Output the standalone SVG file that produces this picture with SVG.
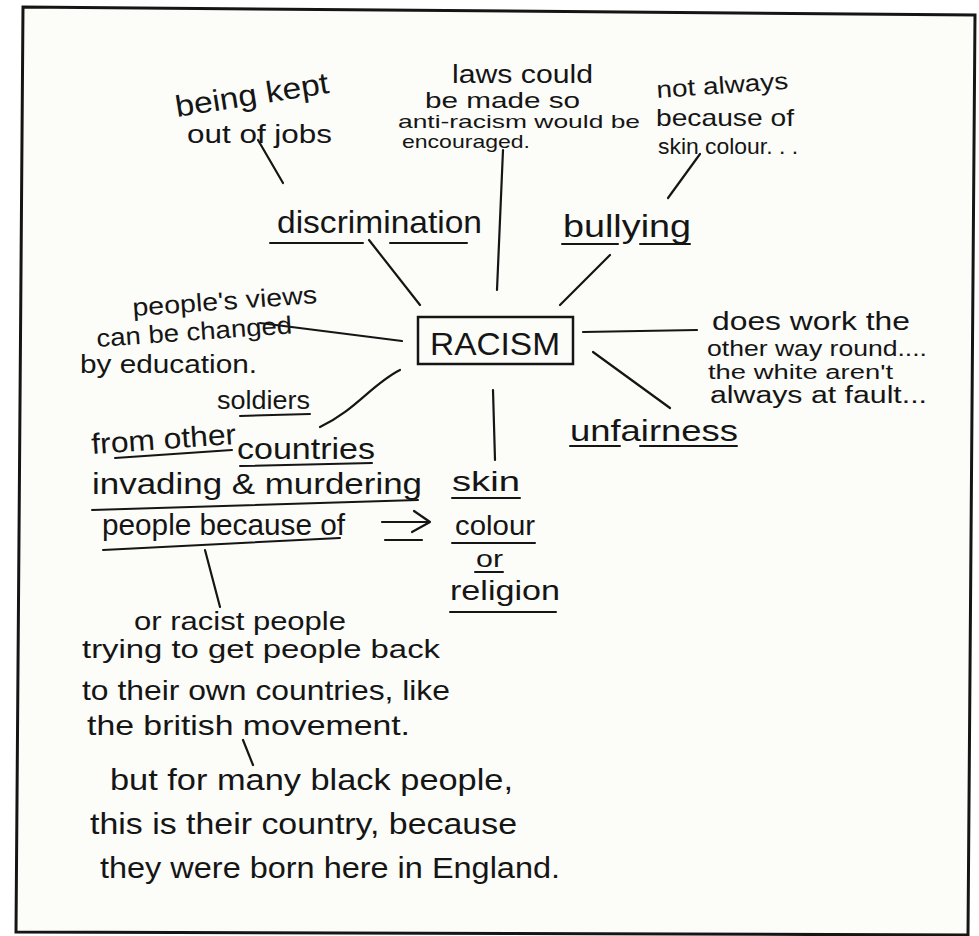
<svg xmlns="http://www.w3.org/2000/svg" width="979" height="936" viewBox="0 0 979 936">
  <style>
    .t { font-family: "Liberation Sans", "DejaVu Sans", sans-serif; fill: #151515; }
    .ln { stroke: #151515; stroke-width: 2.2; fill: none; stroke-linecap: round; stroke-linejoin: round; }
    .ul { stroke: #151515; stroke-width: 2; fill: none; stroke-linecap: round; }
  </style>

  <!-- sheet -->
  <rect x="0" y="0" width="979" height="936" fill="#ffffff"/>
  <polygon points="23,7 975,15 968,935 16,932" fill="#fcfcf9" stroke="#151515" stroke-width="3"/>

  <!-- connectors -->
  <g id="connectors">
    <line class="ln" x1="258" y1="140" x2="283" y2="183"/>
    <line class="ln" x1="369" y1="240" x2="420" y2="305"/>
    <line class="ln" x1="503" y1="150" x2="497" y2="290"/>
    <line class="ln" x1="668" y1="198" x2="700" y2="154"/>
    <line class="ln" x1="610" y1="255" x2="560" y2="305"/>
    <path class="ln" d="M260,323 Q330,332 402,341"/>
    <line class="ln" x1="583" y1="332" x2="697" y2="330"/>
    <line class="ln" x1="593" y1="352" x2="670" y2="408"/>
    <path class="ln" d="M400,370 C372,384 356,410 320,427"/>
    <line class="ln" x1="493" y1="390" x2="495" y2="460"/>
    <line class="ln" x1="205" y1="550" x2="220" y2="607"/>
    <line class="ln" x1="243" y1="740" x2="253" y2="765" stroke-width="3"/>
    <!-- double arrow -->
    <path class="ln" d="M382,522 L428,522 M414,511 L430,522 L412,532"/>
    <line class="ln" x1="385" y1="540" x2="422" y2="540"/>
  </g>

  <!-- central node -->
  <g id="racism">
    <rect x="418" y="317" width="155" height="47" fill="none" stroke="#151515" stroke-width="2.5"/>
    <text class="t" x="430" y="355" font-size="32" textLength="130" lengthAdjust="spacingAndGlyphs">RACISM</text>
  </g>

  <g id="discrimination">
    <text class="t" x="277" y="233" font-size="32" textLength="205" lengthAdjust="spacingAndGlyphs">discrimination</text>
    <line class="ul" x1="270" y1="243" x2="363" y2="243"/>
    <line class="ul" x1="390" y1="243" x2="467" y2="243"/>
  </g>

  <g id="jobs">
    <text class="t" x="177" y="117" font-size="30" textLength="155" lengthAdjust="spacingAndGlyphs" transform="rotate(-9 177 117)">being kept</text>
    <text class="t" x="187" y="143" font-size="25" textLength="145" lengthAdjust="spacingAndGlyphs">out of jobs</text>
  </g>

  <g id="laws">
    <text class="t" x="452" y="83" font-size="25" textLength="141" lengthAdjust="spacingAndGlyphs">laws could</text>
    <text class="t" x="425" y="108" font-size="22" textLength="155" lengthAdjust="spacingAndGlyphs">be made so</text>
    <text class="t" x="398" y="128" font-size="19" textLength="242" lengthAdjust="spacingAndGlyphs">anti-racism would be</text>
    <text class="t" x="402" y="148" font-size="19" textLength="128" lengthAdjust="spacingAndGlyphs">encouraged.</text>
  </g>

  <g id="skin-colour-note">
    <text class="t" x="657" y="98" font-size="24" textLength="132" lengthAdjust="spacingAndGlyphs" transform="rotate(-4 657 98)">not always</text>
    <text class="t" x="656" y="126" font-size="24" textLength="138" lengthAdjust="spacingAndGlyphs">because of</text>
    <text class="t" x="658" y="154" font-size="22" textLength="140" lengthAdjust="spacingAndGlyphs">skin colour. . .</text>
  </g>

  <g id="bullying">
    <text class="t" x="563" y="237" font-size="32" textLength="128" lengthAdjust="spacingAndGlyphs">bullying</text>
    <line class="ul" x1="562" y1="244" x2="618" y2="244"/>
    <line class="ul" x1="640" y1="244" x2="690" y2="244"/>
  </g>

  <g id="education">
    <text class="t" x="133" y="316" font-size="25" textLength="185" lengthAdjust="spacingAndGlyphs" transform="rotate(-4 133 316)">people's views</text>
    <text class="t" x="97" y="347" font-size="25" textLength="196" lengthAdjust="spacingAndGlyphs" transform="rotate(-4 97 347)">can be changed</text>
    <text class="t" x="80" y="373" font-size="25" textLength="177" lengthAdjust="spacingAndGlyphs">by education.</text>
  </g>

  <g id="other-way">
    <text class="t" x="712" y="330" font-size="25" textLength="198" lengthAdjust="spacingAndGlyphs">does work the</text>
    <text class="t" x="707" y="356" font-size="22" textLength="220" lengthAdjust="spacingAndGlyphs">other way round....</text>
    <text class="t" x="708" y="379" font-size="20" textLength="185" lengthAdjust="spacingAndGlyphs">the white aren't</text>
    <text class="t" x="710" y="403" font-size="23" textLength="217" lengthAdjust="spacingAndGlyphs">always at fault...</text>
  </g>

  <g id="unfairness">
    <text class="t" x="570" y="441" font-size="30" textLength="168" lengthAdjust="spacingAndGlyphs">unfairness</text>
    <line class="ul" x1="570" y1="446" x2="620" y2="446"/>
    <line class="ul" x1="640" y1="446" x2="737" y2="446"/>
  </g>

  <g id="soldiers">
    <text class="t" x="217" y="409" font-size="25" textLength="93" lengthAdjust="spacingAndGlyphs">soldiers</text>
    <line class="ul" x1="240" y1="416" x2="310" y2="414"/>
    <text class="t" x="92" y="454" font-size="29" textLength="145" lengthAdjust="spacingAndGlyphs" transform="rotate(-4 92 454)">from other</text>
    <line class="ul" x1="115" y1="458" x2="232" y2="450"/>
    <text class="t" x="237" y="459" font-size="29" textLength="138" lengthAdjust="spacingAndGlyphs">countries</text>
    <line class="ul" x1="240" y1="466" x2="372" y2="463"/>
    <text class="t" x="92" y="494" font-size="29" textLength="330" lengthAdjust="spacingAndGlyphs">invading &amp; murdering</text>
    <line class="ul" x1="92" y1="510" x2="418" y2="500"/>
    <text class="t" x="102" y="535" font-size="29" textLength="243" lengthAdjust="spacingAndGlyphs">people because of</text>
    <line class="ul" x1="103" y1="550" x2="340" y2="538"/>
  </g>

  <g id="skin-colour-religion">
    <text class="t" x="452" y="491" font-size="28" textLength="68" lengthAdjust="spacingAndGlyphs">skin</text>
    <line class="ul" x1="452" y1="498" x2="520" y2="498"/>
    <text class="t" x="455" y="535" font-size="28" textLength="80" lengthAdjust="spacingAndGlyphs">colour</text>
    <line class="ul" x1="452" y1="543" x2="535" y2="543"/>
    <text class="t" x="476" y="567" font-size="24" textLength="27" lengthAdjust="spacingAndGlyphs">or</text>
    <line class="ul" x1="475" y1="572" x2="503" y2="572"/>
    <text class="t" x="450" y="600" font-size="28" textLength="110" lengthAdjust="spacingAndGlyphs">religion</text>
    <line class="ul" x1="450" y1="612" x2="556" y2="612"/>
  </g>

  <g id="racist-people">
    <text class="t" x="134" y="630" font-size="26" textLength="212" lengthAdjust="spacingAndGlyphs">or racist people</text>
    <text class="t" x="82" y="658" font-size="26" textLength="358" lengthAdjust="spacingAndGlyphs">trying to get people back</text>
    <text class="t" x="82" y="700" font-size="28" textLength="368" lengthAdjust="spacingAndGlyphs">to their own countries, like</text>
    <text class="t" x="87" y="735" font-size="28" textLength="323" lengthAdjust="spacingAndGlyphs">the british movement.</text>
  </g>

  <g id="black-people">
    <text class="t" x="110" y="790" font-size="30" textLength="403" lengthAdjust="spacingAndGlyphs">but for many black people,</text>
    <text class="t" x="90" y="834" font-size="30" textLength="427" lengthAdjust="spacingAndGlyphs">this is their country, because</text>
    <text class="t" x="100" y="878" font-size="30" textLength="460" lengthAdjust="spacingAndGlyphs">they were born here in England.</text>
  </g>
</svg>
